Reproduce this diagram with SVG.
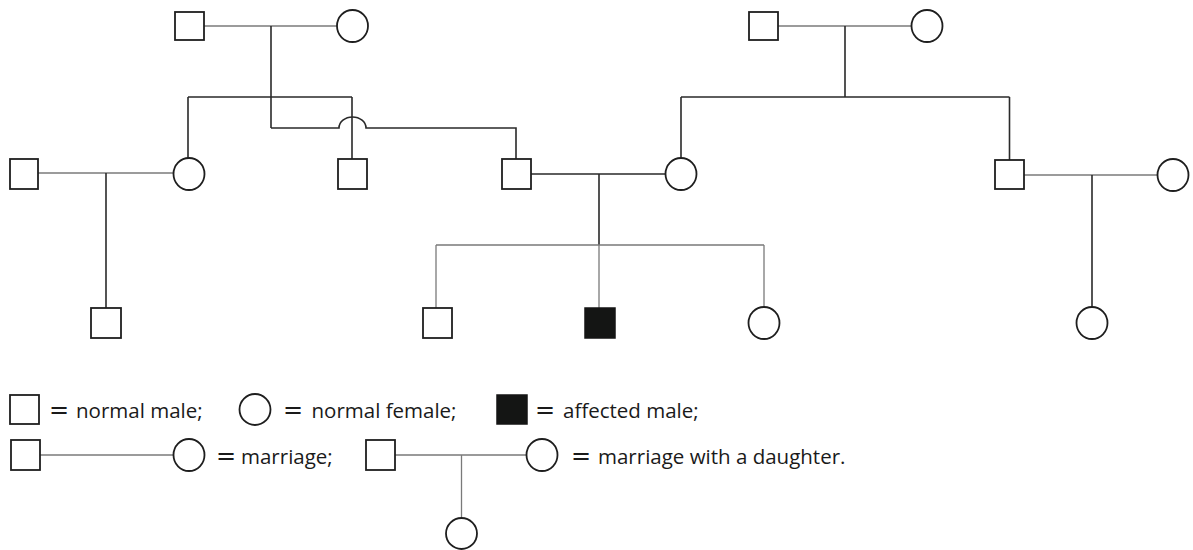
<svg xmlns="http://www.w3.org/2000/svg" width="1193" height="550" viewBox="0 0 1193 550">
<style>
.m{fill:#fff;stroke:#1e1e1e;stroke-width:1.8}
.a{fill:#141514;stroke:#141514;stroke-width:1.5}
.f{fill:#fff;stroke:#1e1e1e;stroke-width:1.8}
.thin{fill:none;stroke:#7a7a7a;stroke-width:1.3}
.dark{fill:none;stroke:#2a2a2a;stroke-width:1.6}
.t{font-family:"Open Sans","Noto Sans",sans-serif;font-size:20.5px;fill:#1a1a1a}
.eq{font-family:"DejaVu Sans",sans-serif;font-size:24px}
</style>
<g id="connectors">
<path class="thin" d="M204,26 H337"/>
<path class="dark" d="M271,26 V128"/>
<path class="dark" d="M188,97 H352 M188,97 V158 M352,97 V159"/>
<path class="dark" d="M271,128 H339 A13.5,11 0 0 1 366,128 H516 V159"/>
<path class="thin" d="M38,173 H173"/>
<path class="dark" d="M106,173 V308"/>
<path class="dark" d="M531,174 H665 M599,174 V245"/>
<path class="thin" d="M436,245 H764 M436,245 V308 M599,245 V308 M764,245 V307"/>
<path class="thin" d="M778,26 H911"/>
<path class="dark" d="M845,26 V97 M681,97 H1009.5 M681,97 V158 M1009.5,97 V160"/>
<path class="thin" d="M1024,175 H1157"/>
<path class="dark" d="M1092,175 V307"/>
</g>
<g id="m1"><rect class="m" x="175" y="12" width="29" height="28"/></g>
<g id="f1"><ellipse class="f" cx="352.5" cy="26" rx="15.5" ry="16"/></g>
<g id="m2"><rect class="m" x="749" y="12" width="29" height="28"/></g>
<g id="f2"><ellipse class="f" cx="927" cy="26" rx="15.5" ry="16"/></g>
<g id="m3"><rect class="m" x="10" y="159" width="28" height="30"/></g>
<g id="f3"><ellipse class="f" cx="189" cy="174" rx="15.5" ry="16"/></g>
<g id="m4"><rect class="m" x="338" y="159" width="29" height="30"/></g>
<g id="m5"><rect class="m" x="502" y="159" width="29" height="30"/></g>
<g id="f5"><ellipse class="f" cx="681" cy="174" rx="15.5" ry="16"/></g>
<g id="m6"><rect class="m" x="995" y="160" width="29" height="29"/></g>
<g id="f6"><ellipse class="f" cx="1173" cy="175" rx="15.5" ry="16"/></g>
<g id="m7"><rect class="m" x="91" y="308" width="30" height="30"/></g>
<g id="m8"><rect class="m" x="423" y="308" width="29" height="30"/></g>
<g id="a9"><rect class="a" x="585" y="308" width="30" height="30"/></g>
<g id="f9"><ellipse class="f" cx="764" cy="323" rx="15.5" ry="16"/></g>
<g id="f10"><ellipse class="f" cx="1092" cy="323" rx="15.5" ry="16"/></g>
<g id="legend">
<rect class="m" x="10" y="395" width="29" height="29"/>
<text class="t" x="49" y="418"><tspan class="eq">=</tspan> <tspan x="76">normal male;</tspan></text>
<ellipse class="f" cx="255" cy="409.5" rx="15.5" ry="15.5"/>
<text class="t" x="283" y="418"><tspan class="eq">=</tspan> <tspan x="311.5">normal female;</tspan></text>
<rect class="a" x="497" y="395" width="30" height="29"/>
<text class="t" x="535" y="418"><tspan class="eq">=</tspan> <tspan x="563">affected male;</tspan></text>
<path class="thin" d="M40,455 H173"/>
<rect class="m" x="11" y="440" width="29" height="30"/>
<ellipse class="f" cx="189" cy="455" rx="15.5" ry="16"/>
<text class="t" x="216" y="463.5"><tspan class="eq">=</tspan> <tspan x="241">marriage;</tspan></text>
<path class="thin" d="M395,455 H526 M461.5,455 V517.5"/>
<rect class="m" x="366" y="440" width="29" height="30"/>
<ellipse class="f" cx="542" cy="455" rx="15.5" ry="16"/>
<ellipse class="f" cx="461.5" cy="533.5" rx="15.5" ry="15.5"/>
<text class="t" x="571" y="463.5"><tspan class="eq">=</tspan> <tspan x="598">marriage with a daughter.</tspan></text>
</g>
</svg>
